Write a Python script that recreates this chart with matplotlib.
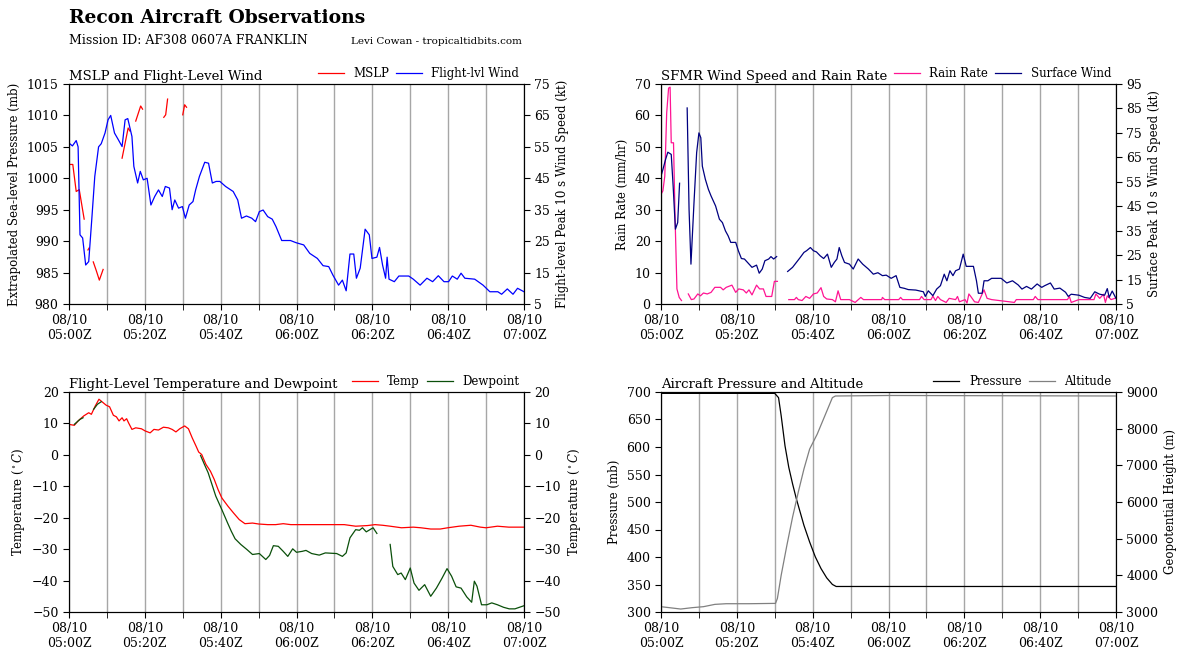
import numpy as np
import matplotlib
matplotlib.use('Agg')
import matplotlib.pyplot as plt

plt.rcParams['font.family'] = ['DejaVu Serif']
plt.rcParams['mathtext.fontset'] = 'dejavuserif'

nan = np.nan

# tick labels for the shared time axis (minutes after 05:00Z)
tick_minutes = [0, 20, 40, 60, 80, 100, 120]
tick_labels = ['08/10\n05:00Z', '08/10\n05:20Z', '08/10\n05:40Z', '08/10\n06:00Z',
               '08/10\n06:20Z', '08/10\n06:40Z', '08/10\n07:00Z']

# MSLP (mb), gaps as nan
mslp_t = [0.3, 1.0, 1.9, 2.7, 4.0, nan, 5.0, 5.3, nan, 6.4, 7.2, 8.0, 9.0, nan,
          14.0, 15.6, 16.1, nan, 17.6, 18.9, 19.4, nan, 25.0, 25.5, 26.0, nan, 30.0, 30.5, 31.0]
mslp_p = [1002.2, 1002.2, 997.9, 998.2, 993.5, nan, 988.6, 988.9, nan, 986.7, 985.3, 983.8, 985.5, nan,
          1003.2, 1008.0, 1007.5, nan, 1009.1, 1011.5, 1011.0, nan, 1009.7, 1010.1, 1012.6, nan, 1010.1, 1011.7, 1011.3]

# flight-level wind (kt)
flw_t = [0, 0.9, 1.9, 2.4, 2.9, 3.6, 4.4, 5.2, 6.0, 6.8, 7.8, 8.5, 9.5, 10.3, 11.0, 12.0, 13.0, 14.0,
         14.8, 15.5, 16.6, 17.1, 18.1, 18.8, 19.6, 20.6, 21.6, 22.6, 23.6, 24.6, 25.4, 26.5, 27.2, 27.9,
         28.9, 29.9, 30.7, 31.7, 32.7, 33.4, 34.4, 35.8, 36.8, 37.8, 38.8, 39.8, 41.3, 43.3, 44.5, 45.5,
         46.8, 48.2, 49.2, 50.2, 51.2, 52.4, 53.6, 54.6, 56.1, 58.4, 59.9, 61.9, 63.5, 65.5, 67.0, 68.5,
         69.6, 71.1, 72.1, 73.1, 74.1, 75.1, 75.8, 76.8, 78.1, 79.2, 79.9, 81.2, 81.9, 82.7, 83.5, 83.9,
         84.4, 85.8, 87.0, 89.6, 90.8, 92.6, 94.4, 95.9, 97.4, 98.9, 100.1, 101.1, 102.4, 103.4, 104.4,
         107.0, 109.2, 111.0, 113.1, 114.1, 115.6, 117.1, 118.3, 120.0]
flw_v = [56.2, 55.3, 57.0, 55.0, 27.0, 26.0, 17.4, 18.5, 31.8, 45.6, 55.0, 56.0, 59.4, 63.6, 65.0, 59.4,
         57.3, 55.1, 63.6, 64.0, 58.3, 48.8, 43.5, 47.2, 44.5, 45.0, 36.5, 39.2, 41.3, 39.2, 42.4, 41.9,
         35.0, 38.1, 35.5, 36.0, 32.3, 36.5, 37.6, 41.3, 45.6, 50.1, 49.8, 43.5, 44.0, 44.0, 42.4, 40.8,
         38.1, 32.3, 33.0, 32.3, 31.2, 34.4, 34.9, 32.8, 32.0, 29.6, 25.2, 25.2, 24.5, 23.8, 21.1, 19.5,
         17.2, 16.9, 14.2, 11.0, 12.6, 9.2, 20.9, 20.9, 13.2, 16.4, 28.8, 27.0, 19.5, 19.9, 23.0, 17.4,
         13.2, 19.9, 12.9, 12.1, 13.9, 13.9, 12.9, 11.0, 13.2, 12.1, 14.0, 12.1, 12.1, 13.9, 12.9, 14.8,
         13.2, 12.9, 11.0, 8.9, 8.9, 8.1, 9.8, 8.1, 10.0, 8.9]

# SFMR rain rate (mm/hr)
rain_t = [0, 0.5, 1.0, 1.5, 2.0, 2.4, 2.7, 3.3, 3.7, 4.2, 4.8, 5.4, nan,
          7.2, 8.0, 8.7, 9.7, 10.4, 11.2, 12.2, 13.2, 14.2, 15.7, 16.4, 17.2, 18.7, 19.7, 20.5, 21.7,
          22.5, 23.2, 24.0, 25.2, 26.0, 27.0, 27.7, 29.2, 29.9, 30.7, nan,
          33.7, 35.2, 35.7, 36.2, 37.2, 38.2, 39.2, 40.2, 41.2, 42.2, 42.9, 43.7, 45.2, 46.0, 46.7,
          47.4, 49.7, 51.2, 52.7, 53.4, 58.2, 58.4, 59.0, 62.7, 63.2, 63.7, 68.2, 68.7, 69.4, 71.2,
          71.7, 72.4, 73.0, 73.7, 75.2, 76.0, 77.7, 78.2, 78.7, 80.2, 80.7, 81.2, 81.7, 82.7, 83.7,
          85.2, 86.0, 87.2, 93.2, 93.7, 98.2, 98.7, 99.4, 107.2, 107.7, 108.2, 110.2, 114.2, 114.7,
          115.7, 116.7, 117.2, 117.7, 118.7, 119.7]
rain_v = [34.9, 36.0, 40.7, 60.8, 68.7, 69.0, 51.3, 51.3, 28.0, 4.8, 2.1, 1.1, nan,
          3.2, 1.4, 1.6, 3.2, 2.6, 3.5, 3.2, 3.7, 5.3, 5.3, 4.5, 5.3, 6.0, 3.7, 4.8, 4.5,
          3.5, 4.5, 2.9, 6.0, 4.8, 4.8, 2.4, 2.4, 7.2, 7.2, nan,
          1.4, 1.4, 2.1, 1.4, 1.1, 2.4, 1.8, 3.2, 3.5, 5.2, 2.4, 1.6, 1.4, 0.7, 4.2,
          1.4, 1.4, 0.5, 2.1, 1.4, 1.4, 2.1, 1.4, 1.4, 2.1, 1.4, 1.4, 2.4, 1.4, 1.4,
          2.5, 1.1, 2.4, 1.4, 0.5, 1.8, 1.4, 2.4, 0.7, 1.4, 0.3, 3.2, 2.4, 0.7, 0.5,
          4.5, 1.8, 1.4, 0.5, 1.4, 1.4, 2.4, 1.4, 1.4, 2.4, 0.5, 1.4, 1.4, 3.2,
          1.8, 3.1, 0.5, 2.6, 1.4, 1.8]

# SFMR surface wind (kt)
sfc_t = [0, 0.5, 1.2, 1.8, 2.7, 3.2, 3.8, 4.4, 4.9, nan,
         6.9, 7.4, 7.9, 8.7, 9.4, 10.0, 10.5, 10.9, 11.7, 12.5, 13.2, 14.4, 15.4, 16.2, 17.0, 17.7,
         18.4, 19.7, 20.4, 21.2, 22.0, 23.0, 24.0, 25.2, 25.9, 26.7, 27.4, 28.4, 29.0, 29.7, 30.5, nan,
         33.4, 34.7, 35.7, 36.7, 37.7, 38.4, 39.4, 40.2, 41.0, 42.0, 42.9, 43.9, 44.9, 45.7, 46.4, 47.0,
         47.7, 48.4, 49.7, 50.7, 52.0, 53.2, 54.7, 56.0, 57.2, 58.4, 59.4, 60.7, 62.0, 63.0, 64.2, 65.2,
         67.2, 69.2, 69.7, 70.5, 71.7, 72.7, 73.7, 74.7, 75.4, 76.2, 77.0, 77.7, 78.7, 79.7, 80.5, 81.2,
         82.4, 83.2, 83.7, 84.7, 85.2, 86.2, 87.2, 89.7, 91.2, 92.7, 94.2, 95.2, 96.4, 97.7, 99.2, 100.4,
         101.2, 102.7, 103.7, 105.2, 106.7, 107.4, 108.2, 110.2, 111.7, 113.2, 114.4, 115.7, 117.0, 117.7,
         118.2, 119.0, 120.0]
sfc_v = [57.3, 60.0, 64.1, 67.1, 66.2, 53.3, 35.6, 38.3, 54.4, nan,
         85.2, 43.7, 21.3, 46.4, 66.9, 75.0, 73.0, 61.4, 56.0, 51.9, 49.2, 45.1, 39.7, 38.3, 34.9, 32.9,
         30.2, 30.2, 26.8, 23.6, 23.4, 21.7, 20.0, 20.9, 17.6, 19.3, 22.7, 23.4, 24.4, 23.4, 24.4, nan,
         18.3, 20.0, 22.0, 24.0, 26.1, 26.8, 28.1, 26.8, 26.3, 24.7, 23.6, 25.4, 20.0, 22.0, 23.4, 28.1,
         24.7, 22.0, 21.3, 19.3, 23.4, 21.3, 19.3, 17.2, 17.8, 16.6, 16.8, 15.5, 16.6, 11.8, 11.4, 10.9,
         10.7, 10.0, 8.1, 10.4, 8.4, 11.1, 12.5, 17.2, 14.5, 18.6, 16.6, 18.6, 19.3, 25.4, 20.4, 20.4,
         20.4, 14.5, 9.4, 9.4, 14.5, 14.5, 15.5, 15.5, 13.6, 14.5, 12.8, 11.1, 12.2, 11.1, 13.2, 11.8,
         12.5, 13.6, 11.1, 11.5, 9.8, 8.1, 9.0, 8.6, 7.7, 7.3, 10.0, 9.0, 8.6, 11.3,
         7.7, 10.3, 7.3]

# flight-level temperature (C)
temp_t = [0, 1.4, 2.4, 3.9, 5.2, 5.9, 6.9, 7.9, 8.8, 9.8, 10.7, 11.7, 12.5, 13.2, 14.0, 14.5, 15.2,
          15.7, 16.6, 17.6, 19.1, 20.1, 21.4, 22.4, 23.6, 24.9, 26.2, 27.2, 28.2, 29.2, 30.5, 31.5,
          32.5, 33.5, 34.2, 35.0, 36.1, 37.3, 38.3, 39.3, 40.3, 41.9, 43.4, 44.9, 46.4, 48.4, 50.0,
          52.4, 54.5, 56.5, 58.5, 62.5, 72.6, 75.6, 78.7, 80.7, 82.7, 84.7, 87.7, 90.8, 92.8, 95.4,
          97.9, 99.9, 102.9, 106.0, 108.5, 110.0, 113.0, 116.0, 120.0]
temp_v = [9.7, 9.4, 10.8, 12.4, 13.4, 12.9, 15.5, 17.7, 16.8, 15.8, 15.3, 12.6, 12.1, 10.8, 11.8, 10.8,
          11.5, 10.2, 8.1, 8.6, 8.3, 7.6, 7.0, 8.1, 7.9, 8.8, 8.6, 8.1, 7.3, 8.3, 9.2, 8.3,
          5.4, 2.8, 0.9, 0.1, -3.0, -5.2, -7.8, -11.0, -13.7, -16.3, -18.5, -20.6, -21.9, -21.7, -22.0,
          -22.2, -22.2, -21.9, -22.2, -22.2, -22.2, -22.7, -22.5, -22.2, -22.4, -22.7, -23.2, -23.0, -23.2, -23.6,
          -23.6, -23.2, -22.7, -22.4, -23.0, -23.2, -22.7, -23.0, -23.0]

# flight-level dewpoint (C)
dew_t = [1.4, 2.9, 3.7, nan, 6.5, 7.5, 8.5, nan,
         34.7, 35.7, 36.7, 37.7, 38.7, 40.3, 41.8, 42.8, 43.8, 45.3, 46.9, 48.4, 50.2, 51.9, 52.9, 53.9,
         55.2, 56.5, 57.7, 59.0, 60.0, 61.5, 62.5, 64.0, 66.0, 67.6, 70.6, 72.1, 73.1, 74.1, 75.6, 76.6,
         77.4, 78.4, 80.2, 81.2, nan,
         84.7, 85.4, 86.7, 87.6, 88.7, 90.0, 91.0, 92.3, 93.8, 95.4, 96.9, 98.4, 99.7, 100.9, 102.1,
         103.4, 104.9, 106.2, 106.9, 107.6, 108.8, 110.2, 111.5, 113.0, 114.6, 116.1, 117.6, 120.0]
dew_v = [9.7, 11.3, 11.8, nan, 14.5, 16.1, 16.9, nan,
         -0.2, -3.0, -5.7, -9.4, -13.1, -17.4, -21.6, -24.3, -26.7, -28.5, -30.1, -31.7, -31.4, -33.3, -32.0, -28.9,
         -29.1, -30.7, -32.3, -29.9, -31.0, -30.7, -30.4, -31.4, -31.9, -31.2, -31.4, -32.3, -31.2, -26.4, -23.8, -24.0,
         -23.2, -24.5, -23.2, -25.0, nan,
         -28.5, -35.5, -38.1, -37.6, -39.7, -36.0, -40.8, -43.1, -41.3, -45.0, -42.4, -39.2, -36.2, -38.6, -42.0,
         -42.4, -45.2, -46.9, -40.2, -41.8, -47.7, -47.7, -47.1, -47.7, -48.5, -49.0, -49.0, -48.0]

# aircraft pressure (mb)
pres_t = [0, 30.0, 31.0, 31.7, 32.7, 33.7, 34.7, 35.7, 36.7, 37.7, 39.2, 40.7, 42.2, 43.7, 45.2, 46.2, 120.0]
pres_v = [697.5, 697.5, 689.7, 656.6, 602.3, 563.0, 533.0, 505.7, 481.6, 457.5, 427.3, 400.2, 379.0,
          362.1, 350.1, 346.4, 346.4]

# aircraft altitude (m)
alt_t = [0, 2.2, 5.2, 8.2, 11.2, 14.2, 17.2, 23.2, 30.2, 30.7, 31.7, 33.2, 34.7, 36.2, 37.7, 39.2,
         41.2, 43.2, 45.2, 46.0, 60.2, 120.0]
alt_v = [3145, 3118, 3081, 3118, 3145, 3208, 3226, 3226, 3235, 3371, 4005, 4819, 5588, 6267, 6900, 7443,
         7851, 8348, 8846, 8891, 8905, 8891]


def style_time_axis(ax):
    ax.set_xlim(0, 120)
    ax.set_xticks(tick_minutes)
    ax.set_xticklabels(tick_labels)
    ax.set_xticks(range(0, 121, 10), minor=True)
    ax.grid(axis='x', which='both', color='#a6a6a6', lw=1)
    ax.tick_params(which='both', direction='out', length=4, labelsize=9)


def add_legend(ax, handles):
    ax.legend(handles=handles, loc='lower right', bbox_to_anchor=(1.0, 0.995), ncol=2,
              frameon=False, fontsize=8.5, borderaxespad=0, handlelength=2.2,
              columnspacing=0.6, handletextpad=0.8)


fig = plt.figure(figsize=(11.84, 6.6), dpi=100)

fig.text(69 / 1184, 1 - 18 / 660, 'Recon Aircraft Observations', fontsize=13.5,
         weight='bold', va='center')
fig.text(69 / 1184, 1 - 40 / 660, 'Mission ID: AF308 0607A FRANKLIN', fontsize=9, va='center')
fig.text(351 / 1184, 1 - 41 / 660, 'Levi Cowan - tropicaltidbits.com', fontsize=7.5, va='center')

W, H = 455 / 1184, 220 / 660
top_b = 1 - 304 / 660
bot_b = 1 - 612 / 660
left_l, right_l = 69 / 1184, 661 / 1184

# MSLP and flight-level wind
ax1 = fig.add_axes([left_l, top_b, W, H])
style_time_axis(ax1)
l1, = ax1.plot(mslp_t, mslp_p, color='red', lw=0.9, label='MSLP')
ax1.set_ylim(980, 1015)
ax1.set_ylabel('Extrapolated Sea-level Pressure (mb)', fontsize=8.5)
ax1.set_title('MSLP and Flight-Level Wind', loc='left', fontsize=9.5, pad=3)
ax1b = ax1.twinx()
l2, = ax1b.plot(flw_t, flw_v, color='blue', lw=0.9, label='Flight-lvl Wind')
ax1b.set_ylim(5, 75)
ax1b.set_yticks(range(5, 76, 10))
ax1b.tick_params(direction='out', length=4, labelsize=9)
ax1b.set_ylabel('Flight-level Peak 10 s Wind Speed (kt)', fontsize=8.5)
add_legend(ax1, [l1, l2])

# SFMR
ax2 = fig.add_axes([right_l, top_b, W, H])
style_time_axis(ax2)
l3, = ax2.plot(rain_t, rain_v, color='#ff1493', lw=0.9, label='Rain Rate')
ax2.set_ylim(0, 70)
ax2.set_ylabel('Rain Rate (mm/hr)', fontsize=8.5)
ax2.set_title('SFMR Wind Speed and Rain Rate', loc='left', fontsize=9.5, pad=3)
ax2b = ax2.twinx()
l4, = ax2b.plot(sfc_t, sfc_v, color='#000080', lw=0.9, label='Surface Wind')
ax2b.set_ylim(5, 95)
ax2b.set_yticks(range(5, 96, 10))
ax2b.tick_params(direction='out', length=4, labelsize=9)
ax2b.set_ylabel('Surface Peak 10 s Wind Speed (kt)', fontsize=8.5)
add_legend(ax2, [l3, l4])

# temperature and dewpoint
ax3 = fig.add_axes([left_l, bot_b, W, H])
style_time_axis(ax3)
l5, = ax3.plot(temp_t, temp_v, color='red', lw=0.9, label='Temp')
l6, = ax3.plot(dew_t, dew_v, color='#0a4f0a', lw=0.9, label='Dewpoint')
ax3.set_ylim(-50, 20)
ax3.set_ylabel(r'Temperature ($^\circ C$)', fontsize=8.5)
ax3.set_title('Flight-Level Temperature and Dewpoint', loc='left', fontsize=9.5, pad=3)
ax3b = ax3.twinx()
ax3b.set_ylim(-50, 20)
ax3b.tick_params(direction='out', length=4, labelsize=9)
ax3b.set_ylabel(r'Temperature ($^\circ C$)', fontsize=8.5)
add_legend(ax3, [l5, l6])

# aircraft pressure and altitude
ax4 = fig.add_axes([right_l, bot_b, W, H])
style_time_axis(ax4)
l7, = ax4.plot(pres_t, pres_v, color='black', lw=0.9, label='Pressure')
ax4.set_ylim(300, 700)
ax4.set_ylabel('Pressure (mb)', fontsize=8.5)
ax4.set_title('Aircraft Pressure and Altitude', loc='left', fontsize=9.5, pad=3)
ax4b = ax4.twinx()
l8, = ax4b.plot(alt_t, alt_v, color='gray', lw=0.9, label='Altitude')
ax4b.set_ylim(3000, 9000)
ax4b.tick_params(direction='out', length=4, labelsize=9)
ax4b.set_ylabel('Geopotential Height (m)', fontsize=8.5)
add_legend(ax4, [l7, l8])

fig.savefig('out.png', dpi=100)
